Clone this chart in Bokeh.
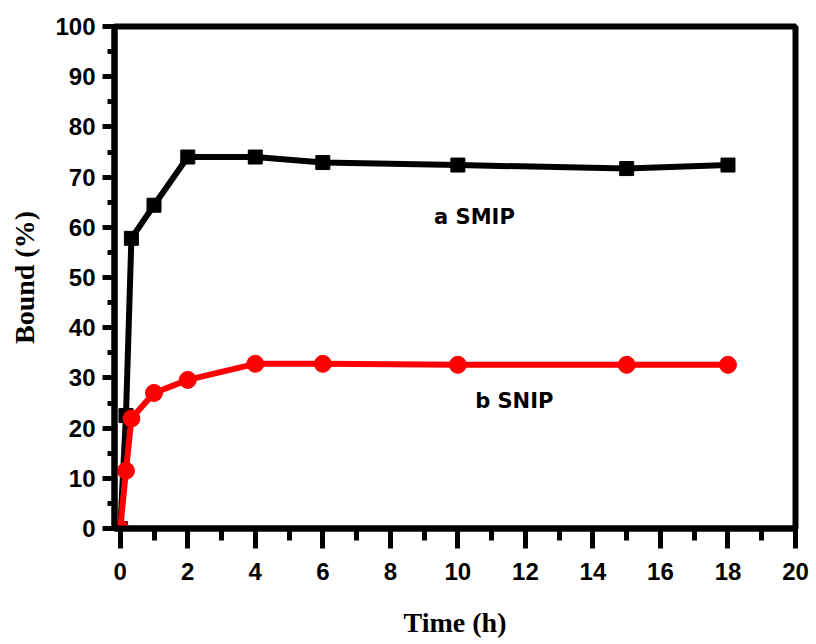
from bokeh.plotting import figure
from bokeh.models import Range1d, SingleIntervalTicker, Label
from bokeh.embed import file_html
from bokeh.resources import INLINE

# Binding kinetics: time (h) vs. bound fraction (%)
time_smip = [0, 0.17, 0.33, 1, 2, 4, 6, 10, 15, 18]
bound_smip = [0, 22.5, 57.8, 64.4, 74.0, 74.0, 72.9, 72.4, 71.7, 72.4]

time_snip = [0, 0.17, 0.33, 1, 2, 4, 6, 10, 15, 18]
bound_snip = [0, 11.5, 21.9, 27.0, 29.6, 32.8, 32.8, 32.6, 32.6, 32.6]

x_label = "Time (h)"
y_label = "Bound (%)"
label_smip = "a SMIP"
label_snip = "b SNIP"

# left edge sits a little before t = 0, so the y axis line stays clear of the first point
p = figure(width=816, height=644, output_backend="svg", toolbar_location=None,
           x_range=Range1d(-0.17, 20), y_range=Range1d(0, 100),
           min_border_left=114, min_border_right=21, min_border_top=26, min_border_bottom=116)
p.background_fill_color = "white"
p.border_fill_color = "white"
p.grid.visible = False
p.outline_line_color = "black"
p.outline_line_width = 6

tick_font = "Liberation Sans"
for ax in (p.xaxis[0], p.yaxis[0]):
    ax.axis_line_width = 6
    ax.major_tick_line_width = 5
    ax.minor_tick_line_width = 5
    ax.major_tick_in = 0
    ax.minor_tick_in = 0
    ax.major_label_text_font = tick_font
    ax.major_label_text_font_style = "bold"
    ax.major_label_text_font_size = "24px"
    ax.major_label_text_color = "black"
    ax.axis_label_text_font = "Liberation Serif"
    ax.axis_label_text_font_style = "bold"
    ax.axis_label_text_font_size = "28px"
    ax.axis_label_text_color = "black"

p.xaxis.ticker = SingleIntervalTicker(interval=2, num_minor_ticks=2)
p.yaxis.ticker = SingleIntervalTicker(interval=10, num_minor_ticks=2)
p.xaxis.major_tick_out = 20
p.xaxis.minor_tick_out = 12
p.yaxis.major_tick_out = 12
p.yaxis.minor_tick_out = 7
p.xaxis.axis_label = x_label
p.yaxis.axis_label = y_label
p.xaxis.major_label_standoff = 14
p.xaxis.axis_label_standoff = 24
p.yaxis.major_label_standoff = 7
p.yaxis.axis_label_standoff = 12

p.line(time_smip, bound_smip, line_color="black", line_width=6)
p.scatter(time_smip, bound_smip, marker="square", size=14, fill_color="black", line_color="black")

p.line(time_snip, bound_snip, line_color="red", line_width=6)
p.scatter(time_snip, bound_snip, marker="circle", size=17, fill_color="red", line_color="red")

p.add_layout(Label(x=10.49, y=62.0, text=label_smip, text_font="DejaVu Sans", text_font_style="bold",
                   text_font_size="21px", text_color="black",
                   text_align="center", text_baseline="alphabetic"))
p.add_layout(Label(x=11.67, y=25.4, text=label_snip, text_font="DejaVu Sans", text_font_style="bold",
                   text_font_size="21px", text_color="black",
                   text_align="center", text_baseline="alphabetic"))

open("out.html", "w").write(file_html(p, INLINE))
